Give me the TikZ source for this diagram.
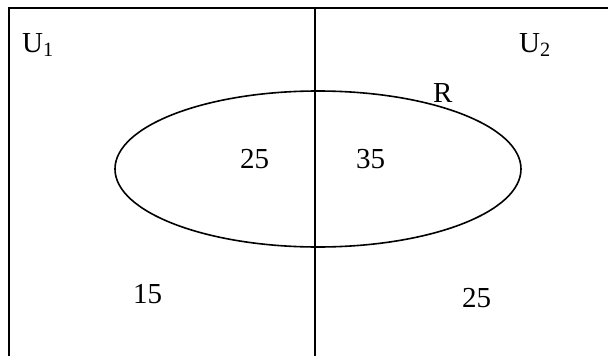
\documentclass[tikz,border=0pt]{standalone}
\usepackage{fontspec}
\setmainfont{Liberation Serif}
\usetikzlibrary{shapes.geometric}

\begin{document}
\begin{tikzpicture}[x=1pt,y=-1pt,
  frame/.style={line width=1.7pt},
  setR/.style={ellipse,draw,line width=1.6pt,minimum width=406pt,minimum height=156pt,inner sep=0pt},
  lbl/.style={font=\fontsize{29}{34}\selectfont,anchor=base west,inner sep=0pt}]

\useasboundingbox (0,0) rectangle (608,356);

% universe frame (open at the bottom and right)
\coordinate (tl) at (9,8);
\coordinate (tr) at (608,8);
\coordinate (bl) at (9,356);
\coordinate (tm) at (315,8);
\coordinate (bm) at (315,356);
\draw[frame] (bl) -- (tl) -- (tr);
\draw[frame] (tm) -- (bm);

% the set R
\node[setR] (R) at (318,169) {};

% labels
\node[lbl] (u1) at (22,52) {U\textsubscript{1}};
\node[lbl] (u2) at (519,52) {U\textsubscript{2}};
\node[lbl] (r) at (433,102) {R};
\node[lbl] (n1) at (240,168) {25};
\node[lbl] (n2) at (356,168) {35};
\node[lbl] (n3) at (133,303) {15};
\node[lbl] (n4) at (462,307) {25};
\end{tikzpicture}
\end{document}
